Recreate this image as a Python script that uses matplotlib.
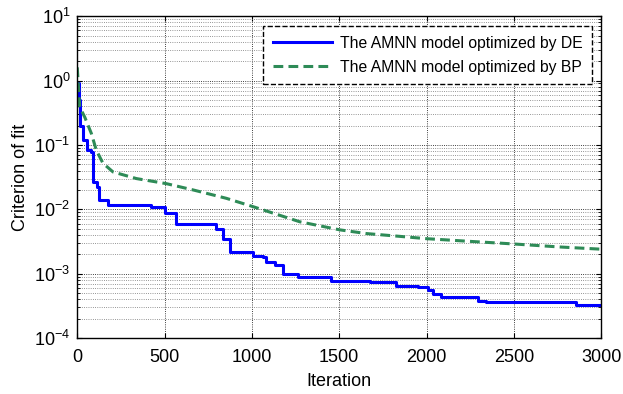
import numpy as np
import matplotlib.pyplot as plt
from matplotlib.ticker import LogLocator, NullFormatter

plt.rcParams['font.family'] = ['Liberation Sans', 'DejaVu Sans']
plt.rcParams['mathtext.fontset'] = 'custom'
plt.rcParams['mathtext.rm'] = 'Liberation Sans'

# DE run (step-like)
de_iter = [0, 8, 14, 35, 55, 81, 92, 115, 125, 176, 424, 500, 568, 797, 834,
           873, 1006, 1063, 1082, 1130, 1177, 1264, 1455, 1674, 1827, 1951,
           2008, 2037, 2084, 2294, 2342, 2857, 3000]
de_val = [0.9, 0.5, 0.2, 0.12, 0.083, 0.078, 0.027, 0.022, 0.0139, 0.0116,
          0.011, 0.0087, 0.006, 0.005, 0.0035, 0.0022, 0.0019, 0.0018,
          0.00154, 0.00136, 0.00098, 0.00088, 0.00077, 0.00073, 0.00065,
          0.00061, 0.00056, 0.00049, 0.00043, 0.00038, 0.00036, 0.00033,
          0.00033]

# BP run
bp_iter = [0, 14, 43, 81, 109, 147, 205, 339, 511, 663, 854, 1006, 1274, 1502,
           1655, 1846, 1998, 2227, 2494, 2761, 3000]
bp_val = [1.6, 0.39, 0.27, 0.15, 0.083, 0.052, 0.038, 0.030, 0.025, 0.020,
          0.0148, 0.011, 0.0064, 0.0048, 0.0042, 0.0038, 0.0035, 0.0032,
          0.0029, 0.0026, 0.0024]

fig = plt.figure(figsize=(6.23, 3.94), dpi=100)
ax = fig.add_axes([0.124, 0.142, 0.841, 0.817])

ax.plot(de_iter, de_val, color='#0000ff', lw=2.2, drawstyle='steps-post',
        label='The AMNN model optimized by DE')
ax.plot(bp_iter, bp_val, color='#2e8b57', lw=2.2, linestyle=(0, (3.2, 1.7)),
        label='The AMNN model optimized by BP')

ax.set_yscale('log')
ax.set_xlim(0, 3000)
ax.set_ylim(1e-4, 1e1)
ax.set_xticks([0, 500, 1000, 1500, 2000, 2500, 3000])
ax.yaxis.set_major_locator(LogLocator(base=10, numticks=10))
ax.yaxis.set_minor_locator(LogLocator(base=10, subs=np.arange(2, 10), numticks=20))
ax.yaxis.set_minor_formatter(NullFormatter())

ax.grid(True, which='major', color='k', linestyle=':', linewidth=0.6)
ax.grid(True, which='minor', axis='y', color='0.45', linestyle=':', linewidth=0.6)
ax.tick_params(direction='in', top=True, right=True, labelsize=13)
ax.tick_params(axis='x', pad=8)
ax.tick_params(axis='y', pad=5)
ax.tick_params(which='minor', direction='in', right=True, length=2)
for s in ax.spines.values():
    s.set_linewidth(1.0)

ax.set_xlabel('Iteration', fontsize=13, labelpad=5)
ax.set_ylabel('Criterion of fit', fontsize=13, labelpad=4)

leg = ax.legend(loc='upper right', bbox_to_anchor=(0.983, 0.969),
                borderaxespad=0, fancybox=False, framealpha=1, fontsize=11.3,
                handlelength=3.8, handletextpad=0.5, labelspacing=0.6,
                borderpad=0.6)
leg.get_frame().set_edgecolor('k')
leg.get_frame().set_linestyle('--')
leg.get_frame().set_linewidth(1.0)

fig.savefig('out.png', dpi=100)
